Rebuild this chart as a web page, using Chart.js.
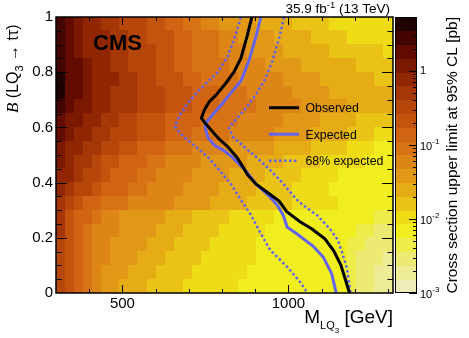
<!DOCTYPE html>
<html>
<head>
<meta charset="utf-8">
<script src="https://cdn.jsdelivr.net/npm/chart.js@4.4.1/dist/chart.umd.min.js"></script>
<style>
  html, body { margin: 0; padding: 0; background: #fff; }
  canvas { display: block; }
</style>
</head>
<body>
<canvas id="limitChart" width="469" height="338"></canvas>
<script>
// Axes
const massRange = [300, 1315];
const branchingRange = [0, 1];
const xTickLabels = [500, 1000];
const yTickLabels = [0, 0.2, 0.4, 0.6, 0.8, 1];
const zRange = [1e-3, 5.36];
const zTickLabels = [1e-3, 1e-2, 1e-1, 1];

// Colour bands of the z axis, lowest limit first
const paletteColors = [
  '#eeecb9', '#edeb96', '#edea73', '#eeec4b', '#f0ee1e',
  '#eddc16', '#e9c416', '#e5ac16', '#e19816', '#dd8516',
  '#d87315', '#d06412', '#c4540d', '#b64609', '#a53605',
  '#912603', '#7a1800', '#620c00', '#440500', '#1e0302'
];

// Cross section limit per cell, given as its z band (0-9, a-j), top row (B = 1) first
const limitRows = [
  'ihgffeedddccbbaa998888777766665555555',
  'ihgfffeeddcccbbaaa9988887777666655555',
  'ihgfffeedddccbbaaa9998888777776666665',
  'ihhgffeedddccbbaaaa999988887777776666',
  'jhhgfffeeddcccbbaaaa99999888877777766',
  'jhhgffeeedddcccbbbaaa9999988887777777',
  'ihggffeeedddcccbbbaaaa999998888877777',
  'hggffeeddcccbbbbaaaa99999888877776666',
  'hgffeedddcccbbbaaaa999998888777766655',
  'gffeeddccbbbaaa9999888887777666655544',
  'gfeedccbbbaa9999888887777666655555444',
  'ffeddcbbbaa99998888777766665555444444',
  'feddcbbbaa999988887777666655554444444',
  'edcbbaaa99999888877776666655555444444',
  'ecbba99888887776666555554444444444433',
  'ecba999888877766665555544444444443322',
  'dcba998888777666655555444444444433222',
  'dcba998887776666555555444444444432221',
  'dcba988877766665555554444444444432211',
  'dcba988777666655555544444444444432211'
];

// Exclusion contours: mass [GeV] and branching fraction
const obsMass = [890, 875, 857, 836, 812, 782, 761, 747, 738, 749, 767, 791, 818, 844, 863, 877, 902, 935, 972, 995, 1035, 1071, 1110, 1137, 1158, 1172, 1184];
const obsB = [1.0, 0.928, 0.851, 0.801, 0.761, 0.717, 0.692, 0.663, 0.634, 0.616, 0.591, 0.558, 0.529, 0.493, 0.457, 0.428, 0.395, 0.366, 0.333, 0.295, 0.258, 0.232, 0.196, 0.152, 0.101, 0.047, 0.0];

const expMass = [917, 902, 881, 857, 827, 800, 776, 756, 749, 758, 779, 803, 830, 854, 875, 905, 939, 966, 984, 996, 1026, 1074, 1105, 1130, 1144];
const expB = [1.0, 0.928, 0.841, 0.768, 0.725, 0.685, 0.652, 0.623, 0.601, 0.562, 0.533, 0.518, 0.493, 0.464, 0.438, 0.391, 0.355, 0.319, 0.283, 0.239, 0.214, 0.170, 0.130, 0.071, 0.0];

const exp68UpMass = [987, 973, 952, 927, 899, 869, 836, 821, 833, 866, 902, 939, 975, 1005, 1030, 1056, 1089, 1125, 1149, 1161, 1176, 1187];
const exp68UpB = [1.0, 0.928, 0.841, 0.768, 0.714, 0.665, 0.621, 0.598, 0.566, 0.530, 0.494, 0.452, 0.409, 0.366, 0.332, 0.308, 0.279, 0.232, 0.192, 0.149, 0.091, 0.0];

const exp68DownMass = [857, 841, 818, 785, 734, 695, 671, 658, 683, 724, 758, 791, 827, 857, 887, 914, 945, 999, 1038, 1057];
const exp68DownB = [1.0, 0.935, 0.859, 0.797, 0.739, 0.685, 0.641, 0.603, 0.567, 0.527, 0.491, 0.446, 0.395, 0.337, 0.283, 0.221, 0.156, 0.091, 0.036, 0.0];

const FONT = "'Liberation Sans', Arial, Helvetica, sans-serif";
Chart.defaults.font.family = FONT;
Chart.defaults.color = '#000';

const blue = 'rgb(100, 100, 240)';
const toPoints = (m, b) => m.map((v, i) => ({ x: v, y: b[i] }));

function segment(ctx, x0, y0, x1, y1) {
  ctx.beginPath();
  ctx.moveTo(x0, y0);
  ctx.lineTo(x1, y1);
  ctx.stroke();
}

// Draw a run of text pieces ({t, size, dy, style, family}) starting at x on baseline y
function drawPieces(ctx, pieces, x, y) {
  pieces.forEach(p => {
    ctx.font = (p.style || '') + ' ' + p.size + 'px ' + (p.family || FONT);
    ctx.fillText(p.t, x, y + (p.dy || 0));
    x += ctx.measureText(p.t).width;
  });
  return x;
}
function piecesWidth(ctx, pieces) {
  return pieces.reduce((w, p) => {
    ctx.font = (p.style || '') + ' ' + p.size + 'px ' + (p.family || FONT);
    return w + ctx.measureText(p.t).width;
  }, 0);
}

// Heatmap cells
const heatmap = {
  id: 'heatmap',
  beforeDatasetsDraw(chart) {
    const { ctx, scales: { x, y } } = chart;
    const nRows = limitRows.length;
    const nCols = Math.max(...limitRows.map(r => r.length));
    const massStep = (massRange[1] - massRange[0]) / nCols;
    const bStep = (branchingRange[1] - branchingRange[0]) / nRows;
    ctx.save();
    limitRows.forEach((row, r) => {
      const top = Math.floor(y.getPixelForValue(branchingRange[1] - r * bStep));
      const bottom = Math.ceil(y.getPixelForValue(branchingRange[1] - (r + 1) * bStep));
      for (let c = 0; c < nCols; c++) {
        const band = parseInt(row[Math.min(c, row.length - 1)], 36);
        const left = Math.floor(x.getPixelForValue(massRange[0] + c * massStep));
        const right = Math.ceil(x.getPixelForValue(massRange[0] + (c + 1) * massStep));
        ctx.fillStyle = paletteColors[band];
        ctx.fillRect(left, top, right - left, bottom - top);
      }
    });
    ctx.restore();
  }
};

// Frame and ROOT style ticks on all sides
const frame = {
  id: 'frame',
  afterDatasetsDraw(chart) {
    const { ctx, chartArea: a, scales: { x, y } } = chart;
    ctx.save();
    ctx.strokeStyle = '#000';
    ctx.lineWidth = 1;
    for (let m = 400; m < massRange[1]; m += 100) {
      const px = Math.round(x.getPixelForValue(m)) + 0.5;
      const len = xTickLabels.includes(m) ? 8 : 4;
      segment(ctx, px, a.bottom, px, a.bottom - len);
      segment(ctx, px, a.top, px, a.top + len);
    }
    for (let i = 1; i < 20; i++) {
      const py = Math.round(y.getPixelForValue(i * 0.05)) + 0.5;
      const len = i % 4 === 0 ? 11 : 5.5;
      segment(ctx, a.left, py, a.left + len, py);
      segment(ctx, a.right, py, a.right - len, py);
    }
    ctx.lineWidth = 1.5;
    ctx.strokeRect(a.left, a.top, a.right - a.left, a.bottom - a.top);
    ctx.restore();
  }
};

// Colour scale next to the frame
const colorBar = {
  id: 'colorBar',
  afterDraw(chart) {
    const { ctx, chartArea: a, scales: { z } } = chart;
    const left = a.right + 2, right = left + 22;
    const lo = Math.log10(zRange[0]), hi = Math.log10(zRange[1]);
    const step = (hi - lo) / paletteColors.length;
    ctx.save();
    paletteColors.forEach((color, i) => {
      const y0 = z.getPixelForValue(10 ** (lo + i * step));
      const y1 = z.getPixelForValue(10 ** (lo + (i + 1) * step));
      ctx.fillStyle = color;
      ctx.fillRect(left, Math.floor(y1), right - left, Math.ceil(y0) - Math.floor(y1));
    });
    ctx.strokeStyle = '#000';
    ctx.lineWidth = 1;
    ctx.strokeRect(left + 0.5, a.top + 0.5, right - left - 1, a.bottom - a.top - 1);
    for (let d = -3; d <= 0; d++) {
      for (let k = 1; k <= 9; k++) {
        const v = k * 10 ** d;
        if (v > zRange[1]) break;
        const py = Math.round(z.getPixelForValue(v)) + 0.5;
        segment(ctx, right, py, right - (k === 1 ? 8 : 4), py);
      }
    }
    ctx.fillStyle = '#000';
    ctx.textBaseline = 'middle';
    zTickLabels.forEach(v => {
      const py = z.getPixelForValue(v);
      const exp = Math.round(Math.log10(v));
      if (exp === 0) {
        drawPieces(ctx, [{ t: '1', size: 11 }], right + 3, py);
      } else {
        const x1 = drawPieces(ctx, [{ t: '10', size: 11 }], right + 3, py + 1.5);
        drawPieces(ctx, [{ t: '-' + (-exp), size: 8 }], x1, py - 3.5);
      }
    });
    // z axis title, reading upwards, ending at the top of the frame
    ctx.textBaseline = 'alphabetic';
    ctx.translate(457, a.top);
    ctx.rotate(-Math.PI / 2);
    ctx.textAlign = 'right';
    ctx.font = '15.5px ' + FONT;
    ctx.fillText('Cross section upper limit at 95% CL [pb]', 0, 0);
    ctx.restore();
  }
};

// Labels, legend and axis titles
const annotations = {
  id: 'annotations',
  afterDraw(chart) {
    const { ctx, chartArea: a } = chart;
    ctx.save();
    ctx.fillStyle = '#000';
    ctx.textBaseline = 'alphabetic';

    ctx.font = 'bold 22px ' + FONT;
    ctx.fillText('CMS', 93, 50);

    const lumi = [
      { t: '35.9 fb', size: 13.5 },
      { t: '-1', size: 9.5, dy: -5 },
      { t: ' (13 TeV)', size: 13.5 }
    ];
    drawPieces(ctx, lumi, 390 - piecesWidth(ctx, lumi), 13);

    // Legend
    const entries = [0, 1, 2];
    entries.forEach((idx, i) => {
      const ds = chart.data.datasets[idx];
      const ly = 107.7 + i * 26.5;
      ctx.strokeStyle = ds.borderColor;
      ctx.lineWidth = ds.borderWidth;
      ctx.setLineDash(ds.borderDash || []);
      segment(ctx, 269, ly, 299, ly);
      ctx.setLineDash([]);
      ctx.font = '12.3px ' + FONT;
      ctx.fillText(ds.label, 305.5, ly + 4.5);
    });

    // x title, right aligned to the frame
    const xTitle = [
      { t: 'M', size: 19 },
      { t: 'LQ', size: 11, dy: 6 },
      { t: '3', size: 8, dy: 10 },
      { t: ' [GeV]', size: 19 }
    ];
    drawPieces(ctx, xTitle, a.right - piecesWidth(ctx, xTitle), 323);

    // y title, reading upwards
    const yTitle = [
      { t: 'B', size: 17, style: 'italic', family: "'Liberation Serif', serif" },
      { t: ' (LQ', size: 16 },
      { t: '3', size: 11, dy: 5 },
      { t: ' \u2192 ', size: 16 },
      { t: 't\u03c4)', size: 16 }
    ];
    ctx.translate(18, 113);
    ctx.rotate(-Math.PI / 2);
    drawPieces(ctx, yTitle, 0, 0);
    ctx.restore();
  }
};

new Chart(document.getElementById('limitChart'), {
  type: 'scatter',
  data: {
    datasets: [
      { label: 'Observed', data: toPoints(obsMass, obsB), borderColor: '#000', borderWidth: 3 },
      { label: 'Expected', data: toPoints(expMass, expB), borderColor: blue, borderWidth: 3 },
      { label: '68% expected', data: toPoints(exp68UpMass, exp68UpB), borderColor: blue, borderWidth: 2.5, borderDash: [2.5, 2.5] },
      { label: '68% expected', data: toPoints(exp68DownMass, exp68DownB), borderColor: blue, borderWidth: 2.5, borderDash: [2.5, 2.5] }
    ].map(d => ({ ...d, showLine: true, pointRadius: 0, tension: 0, fill: false, borderCapStyle: 'butt' }))
  },
  options: {
    responsive: false,
    animation: false,
    events: [],
    layout: { padding: { top: 17, right: 76, left: 0, bottom: 0 } },
    plugins: { legend: { display: false }, tooltip: { enabled: false } },
    scales: {
      x: {
        type: 'linear',
        min: massRange[0],
        max: massRange[1],
        grid: { display: false, drawTicks: false },
        border: { display: false },
        ticks: { font: { size: 15 }, padding: 2, maxRotation: 0, callback: v => String(v) },
        afterBuildTicks: s => { s.ticks = xTickLabels.map(v => ({ value: v })); },
        afterFit: s => { s.height = 45; }
      },
      y: {
        type: 'linear',
        min: branchingRange[0],
        max: branchingRange[1],
        grid: { display: false, drawTicks: false },
        border: { display: false },
        ticks: { font: { size: 15 }, padding: 3, callback: v => String(v) },
        afterBuildTicks: s => { s.ticks = yTickLabels.map(v => ({ value: v })); },
        afterFit: s => { s.width = 56; }
      },
      z: {
        type: 'logarithmic',
        position: 'right',
        display: false,
        min: zRange[0],
        max: zRange[1]
      }
    }
  },
  plugins: [heatmap, frame, colorBar, annotations]
});
</script>
</body>
</html>
